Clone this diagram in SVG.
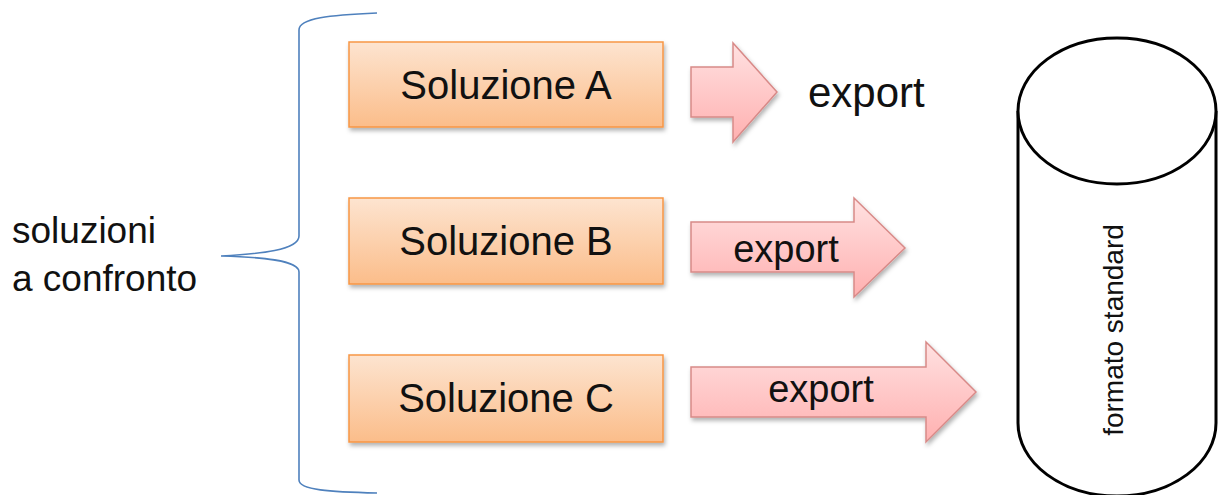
<svg xmlns="http://www.w3.org/2000/svg" width="1218" height="495" viewBox="0 0 1218 495">
<defs>
<linearGradient id="gBox" x1="0" y1="0" x2="0" y2="1">
<stop offset="0" stop-color="#fde4d0"/>
<stop offset="1" stop-color="#fbbd8a"/>
</linearGradient>
<linearGradient id="gArr" x1="0" y1="0" x2="0" y2="1">
<stop offset="0" stop-color="#ffe1e1"/>
<stop offset="1" stop-color="#ffb0b0"/>
</linearGradient>
<filter id="sh" x="-10%" y="-20%" width="120%" height="150%">
<feDropShadow dx="1.5" dy="3" stdDeviation="2" flood-color="#000" flood-opacity="0.3"/>
</filter>
</defs>
<style>
.box{fill:url(#gBox);stroke:#f79646;stroke-width:1.5;filter:url(#sh)}
.arr{fill:url(#gArr);stroke:#d88a88;stroke-width:1.5;filter:url(#sh)}
.t{font-family:"Liberation Sans",Arial,sans-serif;fill:#111}
.brace{fill:none;stroke:#4f81bd;stroke-width:1.6}
.cyl{fill:#fff;stroke:#000;stroke-width:3}
</style>
<rect width="1218" height="495" fill="#fff"/>
<g id="label">
<text class="t" x="12" y="243" font-size="37">soluzioni</text>
<text class="t" x="12" y="291" font-size="37">a confronto</text>
</g>
<g id="brace">
<path class="brace" d="M377,13 C330,15 299,18 299,30 L299,236 C299,250 260,254 221,256 C260,257 299,260 299,272 L299,480 C299,490 330,492 377,493"/>
</g>
<g id="solA">
<rect class="box" x="349" y="42" width="314" height="85"/>
<text class="t" x="506" y="99" font-size="40" text-anchor="middle">Soluzione A</text>
</g>
<g id="solB">
<rect class="box" x="349" y="198" width="314" height="86"/>
<text class="t" x="506" y="255" font-size="40" text-anchor="middle">Soluzione B</text>
</g>
<g id="solC">
<rect class="box" x="349" y="355" width="314" height="87"/>
<text class="t" x="506" y="412" font-size="40" text-anchor="middle">Soluzione C</text>
</g>
<g id="connectors">
<g id="arrA">
<path class="arr" d="M691,67 L733,67 L733,43 L777,92 L733,142 L733,117 L691,117 Z"/>
</g>
<g id="arrB">
<path class="arr" d="M691,222 L854,222 L854,198 L905,248 L854,297 L854,272 L691,272 Z"/>
<text class="t" x="786" y="262" font-size="38" text-anchor="middle">export</text>
</g>
<g id="arrC">
<path class="arr" d="M691,367 L926,367 L926,342 L976,392 L926,442 L926,417 L691,417 Z"/>
<text class="t" x="821" y="402" font-size="38" text-anchor="middle">export</text>
</g>
</g>
<g id="exportA">
<text class="t" x="808" y="107" font-size="42">export</text>
</g>
<g id="cylinder">
<path class="cyl" d="M1018,111 L1018,423 A99,73 0 0 0 1216,423 L1216,111"/>
<ellipse class="cyl" cx="1117" cy="111" rx="99" ry="73"/>
<text class="t" transform="translate(1123,330) rotate(-90)" font-size="28" text-anchor="middle">formato standard</text>
</g>
</svg>
